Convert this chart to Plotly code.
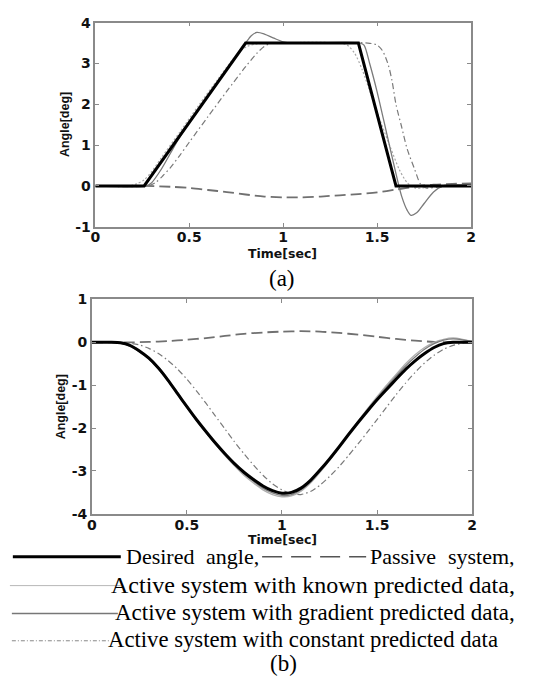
import plotly.graph_objects as go

# ---------------- data: panel (a) ----------------
desired_a_t = [0, 0.26, 0.80, 1.40, 1.60, 2.0]
desired_a_v = [0, 0, 3.5, 3.5, 0, 0]

passive_a_t = [0, 0.26, 0.4, 0.5, 0.6, 0.7, 0.8, 0.9, 1.0, 1.1, 1.2, 1.3, 1.4, 1.5, 1.6, 1.7, 1.8, 1.9, 2.0]
passive_a_v = [0, 0, -0.02, -0.05, -0.1, -0.15, -0.21, -0.26, -0.28, -0.28, -0.26, -0.23, -0.2, -0.16, -0.09, -0.02, 0.03, 0.05, 0.06]

known_a_t = [0, 0.18, 0.22, 0.26, 0.3, 0.35, 0.45, 0.55, 0.65, 0.72, 0.77, 0.81, 0.86, 0.92, 1.3, 1.34, 1.38, 1.42, 1.47, 1.52, 1.57, 1.62, 1.66, 1.7, 1.76, 1.85, 2.0]
known_a_v = [0, 0, 0.05, 0.15, 0.35, 0.68, 1.32, 1.97, 2.6, 3.03, 3.3, 3.42, 3.48, 3.5, 3.5, 3.45, 3.25, 2.85, 2.2, 1.55, 0.95, 0.38, 0.08, -0.05, -0.04, 0, 0]

gradient_a_t = [0, 0.27, 0.3, 0.35, 0.4, 0.45, 0.55, 0.65, 0.75, 0.8, 0.83, 0.86, 0.9, 0.95, 1.0, 1.05, 1.41, 1.43, 1.46, 1.5, 1.55, 1.6, 1.63, 1.66, 1.68, 1.71, 1.75, 1.8, 1.85, 1.9, 2.0]
gradient_a_v = [0, 0, 0.08, 0.4, 0.8, 1.2, 1.88, 2.53, 3.18, 3.5, 3.68, 3.76, 3.72, 3.62, 3.53, 3.5, 3.5, 3.45, 3.0, 2.3, 1.3, 0.3, -0.25, -0.6, -0.72, -0.66, -0.43, -0.15, 0.0, 0.03, 0.02]

constant_a_t = [0, 0.28, 0.32, 0.36, 0.4, 0.45, 0.5, 0.6, 0.7, 0.8, 0.86, 0.9, 0.94, 1.0, 1.45, 1.5, 1.53, 1.56, 1.58, 1.6, 1.63, 1.66, 1.7, 1.73, 1.76, 1.82, 1.9, 2.0]
constant_a_v = [0, 0, 0.08, 0.25, 0.45, 0.75, 1.07, 1.7, 2.32, 2.92, 3.25, 3.42, 3.5, 3.5, 3.5, 3.45, 3.3, 2.95, 2.55, 2.0, 1.45, 0.9, 0.4, 0.05, -0.05, -0.03, 0.0, 0.02]

# ---------------- data: panel (b) ----------------
tb = [0, 0.1, 0.15, 0.2, 0.25, 0.3, 0.35, 0.4, 0.45, 0.5, 0.55, 0.6, 0.65, 0.7, 0.75, 0.8, 0.85, 0.9, 0.95, 1.0,
      1.05, 1.1, 1.15, 1.2, 1.25, 1.3, 1.35, 1.4, 1.45, 1.5, 1.55, 1.6, 1.65, 1.7, 1.75, 1.8, 1.85, 1.9, 1.95, 2.0]
desired_b_v = [0, 0, -0.01, -0.07, -0.2, -0.37, -0.6, -0.88, -1.19, -1.5, -1.8, -2.08, -2.35, -2.6, -2.83, -3.03, -3.2, -3.35, -3.46, -3.52,
               -3.5, -3.4, -3.22, -2.98, -2.72, -2.44, -2.15, -1.87, -1.6, -1.34, -1.1, -0.86, -0.63, -0.43, -0.26, -0.12, -0.03, 0, 0, 0]
known_b_v = [0, 0, -0.01, -0.06, -0.18, -0.35, -0.58, -0.86, -1.17, -1.49, -1.8, -2.1, -2.38, -2.64, -2.88, -3.1, -3.28, -3.44, -3.55, -3.6,
             -3.58, -3.47, -3.28, -3.03, -2.75, -2.45, -2.14, -1.84, -1.55, -1.27, -1.0, -0.75, -0.5, -0.29, -0.12, 0.0, 0.07, 0.1, 0.07, 0.02]
gradient_b_v = [0, 0, -0.02, -0.09, -0.22, -0.39, -0.62, -0.9, -1.21, -1.52, -1.82, -2.1, -2.37, -2.62, -2.85, -3.06, -3.24, -3.4, -3.51, -3.57,
                -3.55, -3.44, -3.25, -3.0, -2.73, -2.44, -2.14, -1.85, -1.57, -1.3, -1.04, -0.79, -0.55, -0.34, -0.16, -0.03, 0.05, 0.08, 0.06, 0.02]
constant_b_v = [0, 0, 0, -0.02, -0.06, -0.14, -0.26, -0.42, -0.62, -0.86, -1.13, -1.42, -1.72, -2.02, -2.32, -2.6, -2.86, -3.1, -3.3, -3.44,
                -3.53, -3.55, -3.48, -3.33, -3.13, -2.9, -2.64, -2.37, -2.09, -1.8, -1.51, -1.22, -0.95, -0.7, -0.48, -0.3, -0.16, -0.07, -0.02, 0]

passive_b_t = [0, 0.2, 0.3, 0.4, 0.5, 0.6, 0.7, 0.8, 0.9, 1.0, 1.1, 1.2, 1.3, 1.4, 1.5, 1.6, 1.7, 1.8, 1.9, 2.0]
passive_b_v = [0, 0, 0.01, 0.03, 0.06, 0.1, 0.15, 0.2, 0.23, 0.25, 0.26, 0.25, 0.22, 0.18, 0.13, 0.08, 0.04, 0.01, 0, 0]

# ticks / labels
x_tickvals = [0, 0.5, 1, 1.5, 2]
x_ticktext = ["0", "0.5", "1", "1.5", "2"]
ya_tickvals = [-1, 0, 1, 2, 3, 4]
ya_ticktext = ["-1", "0", "1", "2", "3", "4"]
yb_tickvals = [-4, -3, -2, -1, 0, 1]
yb_ticktext = ["-4", "-3", "-2", "-1", "0", "1"]

legend_labels = ["Desired", "angle,", "Passive", "system,",
                 "Active system with known predicted data,",
                 "Active system with gradient predicted data,",
                 "Active system with constant predicted data"]

W, H = 536, 681
def px(x):
    return x / W
def py(y):
    return 1 - y / H

fig = go.Figure()

PASSIVE = dict(color="#707070", width=1.8, dash="11px,5px")
KNOWN = dict(color="#a8a8a8", width=1.2, dash="2px,2px")
GRAD = dict(color="#7a7a7a", width=1.3)
CONST = dict(color="#7a7a7a", width=1.2, dash="6px,3px,1.5px,3px")
DES = dict(color="#000000", width=3)

def add(t, v, line, ax, smoothing=0.8):
    ln = dict(line)
    if smoothing:
        ln.update(shape="spline", smoothing=smoothing)
    fig.add_trace(go.Scatter(x=t, y=v, mode="lines", line=ln,
                             xaxis=ax[0], yaxis=ax[1], showlegend=False, hoverinfo="skip"))

A = ("x", "y")
B = ("x2", "y2")
add(passive_a_t, passive_a_v, PASSIVE, A)
add(constant_a_t, constant_a_v, CONST, A)
add(known_a_t, known_a_v, KNOWN, A)
add(gradient_a_t, gradient_a_v, GRAD, A)
add(desired_a_t, desired_a_v, DES, A, smoothing=0)

add(passive_b_t, passive_b_v, PASSIVE, B)
add(tb, constant_b_v, CONST, B, 0.6)
add(tb, known_b_v, dict(color="#b0b0b0", width=1.4), B, 0.6)
add(tb, gradient_b_v, GRAD, B, 0.6)
add(tb, desired_b_v, DES, B, 0.6)

tickfont = dict(family="DejaVu Sans", size=14, color="#111111", weight="bold")
axcommon = dict(showline=True, linecolor="#8a8a8a", linewidth=1.5, mirror="ticks",
                ticks="inside", ticklen=4, tickcolor="#8a8a8a", tickwidth=1,
                showgrid=False, zeroline=False, tickfont=tickfont, fixedrange=True)

fig.update_layout(
    width=W, height=H, autosize=False,
    margin=dict(l=0, r=0, t=0, b=0),
    paper_bgcolor="white", plot_bgcolor="white",
    xaxis=dict(domain=[px(92), px(475)], range=[0, 2], tickvals=x_tickvals, ticktext=x_ticktext, anchor="y",
               ticklabelstandoff=-3, **axcommon),
    yaxis=dict(domain=[py(224), py(15)], range=[-1, 4], tickvals=ya_tickvals, ticktext=ya_ticktext, anchor="x", **axcommon),
    xaxis2=dict(domain=[px(88.5), px(476)], range=[0, 2], tickvals=x_tickvals, ticktext=x_ticktext, anchor="y2",
                ticklabelstandoff=-2, **axcommon),
    yaxis2=dict(domain=[py(518), py(298.5)], range=[-4, 1], tickvals=yb_tickvals, ticktext=yb_ticktext, anchor="x2", **axcommon),
)

sans = dict(family="Liberation Sans", size=12.5, color="#111111", weight="bold")
tsans = dict(family="DejaVu Sans", size=12.5, color="#111111", weight="bold")
serif = dict(family="Liberation Serif", size=23, color="#000000")
row1 = dict(serif, size=22)
ann = []
ann.append(dict(text="Angle[deg]", x=px(61), y=py(119), textangle=-90, font=sans))
ann.append(dict(text="Angle[deg]", x=px(57), y=py(408), textangle=-90, font=sans))
ann.append(dict(text="Time[sec]", x=px(283), y=py(251), font=tsans))
ann.append(dict(text="Time[sec]", x=px(283), y=py(544.5), font=tsans))
ann.append(dict(text="(a)", x=px(282), y=py(277), font=serif))
ann.append(dict(text="(b)", x=px(284), y=py(671), font=serif))
ann.append(dict(text=legend_labels[0], x=px(122), y=py(562), xanchor="left", font=row1))
ann.append(dict(text=legend_labels[1], x=px(260), y=py(562), xanchor="right", font=row1))
ann.append(dict(text=legend_labels[2], x=px(371), y=py(562), xanchor="left", font=row1))
ann.append(dict(text=legend_labels[3], x=px(521), y=py(562), xanchor="right", font=row1))
ann.append(dict(text=legend_labels[4], x=px(521), y=py(591), xanchor="right", font=dict(serif, size=24)))
ann.append(dict(text=legend_labels[5], x=px(521), y=py(619), xanchor="right", font=dict(serif, size=23)))
ann.append(dict(text=legend_labels[6], x=px(503), y=py(647), xanchor="right", font=dict(serif, size=22.7)))
for a in ann:
    a.setdefault("xanchor", "center")
    a.update(xref="paper", yref="paper", yanchor="middle", showarrow=False, borderpad=0)
fig.update_layout(annotations=ann)

shapes = [
    dict(x0=px(8), x1=px(118), y0=py(562), y1=py(562), line=dict(color="black", width=3)),
    dict(x0=px(262), x1=px(368), y0=py(562), y1=py(562), line=dict(color="#555555", width=1.5, dash="20px,9px")),
    dict(x0=px(5), x1=px(118), y0=py(591.5), y1=py(591.5), line=dict(color="#b8b8b8", width=1)),
    dict(x0=px(7), x1=px(115), y0=py(620), y1=py(620), line=dict(color="#777777", width=1.5)),
    dict(x0=px(7), x1=px(107), y0=py(648), y1=py(648), line=dict(color="#888888", width=1, dash="4px,2px,1px,2px")),
]
for s in shapes:
    s.update(type="line", xref="paper", yref="paper")
fig.update_layout(shapes=shapes)

fig.write_html("out.html")
